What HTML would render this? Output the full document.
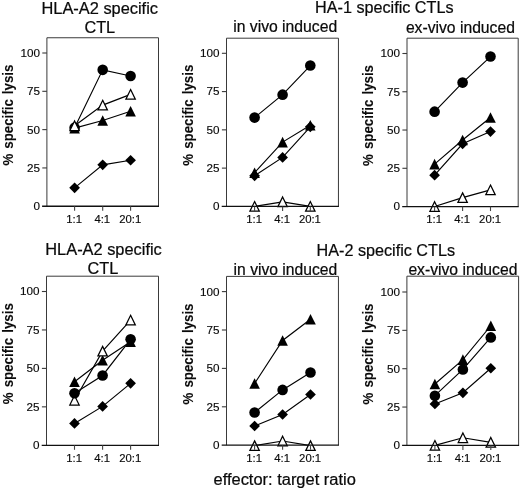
<!DOCTYPE html>
<html><head><meta charset="utf-8"><title>CTL lysis figure</title>
<style>
html,body{margin:0;padding:0;background:#fff;}
svg{display:block;will-change:transform;filter:grayscale(1)}
text{font-family:"Liberation Sans",sans-serif;fill:#0a0a0a;stroke:#0a0a0a;stroke-width:0.22px}
.tt{font-size:16px}
.tk{font-size:11.7px;stroke-width:0.15px}
.tx{font-size:11.3px;stroke-width:0.15px}
.yl{font-size:15.4px;font-weight:bold;stroke-width:0.1px;word-spacing:1.6px}
</style></head><body>
<svg width="520" height="490" viewBox="0 0 520 490">
<rect width="520" height="490" fill="#fff"/>
<path d="M46.9 206.25V37.75H158.5V206.25" fill="none" stroke="#3a3a3a" stroke-width="1.0"/>
<text x="40.00" y="210.15" text-anchor="end" class="tk">0</text>
<path d="M42.3 167.94H46.9" stroke="#3a3a3a" stroke-width="1.1"/>
<text x="40.00" y="171.84" text-anchor="end" class="tk">25</text>
<path d="M42.3 129.62H46.9" stroke="#3a3a3a" stroke-width="1.1"/>
<text x="40.00" y="133.53" text-anchor="end" class="tk">50</text>
<path d="M42.3 91.31H46.9" stroke="#3a3a3a" stroke-width="1.1"/>
<text x="40.00" y="95.21" text-anchor="end" class="tk">75</text>
<path d="M42.3 53.00H46.9" stroke="#3a3a3a" stroke-width="1.1"/>
<text x="40.00" y="56.90" text-anchor="end" class="tk">100</text>
<text x="74.20" y="223.15" text-anchor="middle" class="tx">1:1</text>
<text x="102.30" y="223.15" text-anchor="middle" class="tx">4:1</text>
<text x="130.20" y="223.15" text-anchor="middle" class="tx">20:1</text>
<text transform="translate(12.8 165.6) rotate(-90)" class="yl" textLength="101" lengthAdjust="spacingAndGlyphs">% specific lysis</text>
<polyline points="74.60,187.86 102.70,164.87 130.60,160.28" fill="none" stroke="#000" stroke-width="1.15"/>
<path d="M74.60 182.51L79.95 187.86L74.60 193.21L69.25 187.86Z" fill="#000"/>
<path d="M102.70 159.52L108.05 164.87L102.70 170.22L97.35 164.87Z" fill="#000"/>
<path d="M130.60 154.93L135.95 160.28L130.60 165.62L125.25 160.28Z" fill="#000"/>
<polyline points="74.60,127.63 102.70,69.86 130.60,75.99" fill="none" stroke="#000" stroke-width="1.15"/>
<circle cx="74.60" cy="127.63" r="5.3" fill="#000"/>
<circle cx="102.70" cy="69.86" r="5.3" fill="#000"/>
<circle cx="130.60" cy="75.99" r="5.3" fill="#000"/>
<polyline points="74.60,128.09 102.70,120.43 130.60,111.23" fill="none" stroke="#000" stroke-width="1.15"/>
<path d="M74.60 122.79L79.90 133.39L69.30 133.39Z" fill="#000"/>
<path d="M102.70 115.13L108.00 125.73L97.40 125.73Z" fill="#000"/>
<path d="M130.60 105.94L135.90 116.53L125.30 116.53Z" fill="#000"/>
<polyline points="74.60,125.79 102.70,105.11 130.60,94.38" fill="none" stroke="#000" stroke-width="1.15"/>
<path d="M74.60 120.99L79.30 130.59L69.90 130.59Z" fill="#fff" stroke="#000" stroke-width="1.25" stroke-linejoin="miter"/>
<path d="M102.70 100.31L107.40 109.91L98.00 109.91Z" fill="#fff" stroke="#000" stroke-width="1.25" stroke-linejoin="miter"/>
<path d="M130.60 89.58L135.30 99.18L125.90 99.18Z" fill="#fff" stroke="#000" stroke-width="1.25" stroke-linejoin="miter"/>
<path d="M42.1 206.25H159.0" fill="none" stroke="#111" stroke-width="1.3"/>
<path d="M74.6 206.25V210.75" stroke="#444" stroke-width="1.1"/>
<path d="M102.7 206.25V210.75" stroke="#444" stroke-width="1.1"/>
<path d="M130.6 206.25V210.75" stroke="#444" stroke-width="1.1"/>
<path d="M226.5 206.4V38.2H338.45V206.4" fill="none" stroke="#3a3a3a" stroke-width="1.0"/>
<text x="219.60" y="210.30" text-anchor="end" class="tk">0</text>
<path d="M221.9 168.12H226.5" stroke="#3a3a3a" stroke-width="1.1"/>
<text x="219.60" y="172.03" text-anchor="end" class="tk">25</text>
<path d="M221.9 129.85H226.5" stroke="#3a3a3a" stroke-width="1.1"/>
<text x="219.60" y="133.75" text-anchor="end" class="tk">50</text>
<path d="M221.9 91.58H226.5" stroke="#3a3a3a" stroke-width="1.1"/>
<text x="219.60" y="95.48" text-anchor="end" class="tk">75</text>
<path d="M221.9 53.30H226.5" stroke="#3a3a3a" stroke-width="1.1"/>
<text x="219.60" y="57.20" text-anchor="end" class="tk">100</text>
<text x="254.20" y="223.30" text-anchor="middle" class="tx">1:1</text>
<text x="282.20" y="223.30" text-anchor="middle" class="tx">4:1</text>
<text x="309.90" y="223.30" text-anchor="middle" class="tx">20:1</text>
<text transform="translate(193.0 165.7) rotate(-90)" class="yl" textLength="101" lengthAdjust="spacingAndGlyphs">% specific lysis</text>
<polyline points="254.60,117.60 282.60,94.64 310.30,65.55" fill="none" stroke="#000" stroke-width="1.15"/>
<circle cx="254.60" cy="117.60" r="5.3" fill="#000"/>
<circle cx="282.60" cy="94.64" r="5.3" fill="#000"/>
<circle cx="310.30" cy="65.55" r="5.3" fill="#000"/>
<polyline points="254.60,172.72 282.60,142.10 310.30,125.26" fill="none" stroke="#000" stroke-width="1.15"/>
<path d="M254.60 167.42L259.90 178.02L249.30 178.02Z" fill="#000"/>
<path d="M282.60 136.80L287.90 147.40L277.30 147.40Z" fill="#000"/>
<path d="M310.30 119.96L315.60 130.56L305.00 130.56Z" fill="#000"/>
<polyline points="254.60,175.78 282.60,157.41 310.30,126.79" fill="none" stroke="#000" stroke-width="1.15"/>
<path d="M254.60 170.43L259.95 175.78L254.60 181.13L249.25 175.78Z" fill="#000"/>
<path d="M282.60 152.06L287.95 157.41L282.60 162.76L277.25 157.41Z" fill="#000"/>
<path d="M310.30 121.44L315.65 126.79L310.30 132.14L304.95 126.79Z" fill="#000"/>
<polyline points="254.60,206.40 282.60,201.81 310.30,206.40" fill="none" stroke="#000" stroke-width="1.15"/>
<path d="M254.60 201.60L259.30 211.20L249.90 211.20Z" fill="#fff" stroke="#000" stroke-width="1.25" stroke-linejoin="miter"/>
<path d="M282.60 197.01L287.30 206.61L277.90 206.61Z" fill="#fff" stroke="#000" stroke-width="1.25" stroke-linejoin="miter"/>
<path d="M310.30 201.60L315.00 211.20L305.60 211.20Z" fill="#fff" stroke="#000" stroke-width="1.25" stroke-linejoin="miter"/>
<path d="M221.7 206.4H338.95" fill="none" stroke="#111" stroke-width="1.3"/>
<path d="M254.6 206.4V210.9" stroke="#444" stroke-width="1.1"/>
<path d="M282.6 206.4V210.9" stroke="#444" stroke-width="1.1"/>
<path d="M310.3 206.4V210.9" stroke="#444" stroke-width="1.1"/>
<path d="M407.0 206.55V38.2H518.2V206.55" fill="none" stroke="#3a3a3a" stroke-width="1.0"/>
<text x="400.10" y="210.45" text-anchor="end" class="tk">0</text>
<path d="M402.4 168.29H407.0" stroke="#3a3a3a" stroke-width="1.1"/>
<text x="400.10" y="172.19" text-anchor="end" class="tk">25</text>
<path d="M402.4 130.03H407.0" stroke="#3a3a3a" stroke-width="1.1"/>
<text x="400.10" y="133.93" text-anchor="end" class="tk">50</text>
<path d="M402.4 91.76H407.0" stroke="#3a3a3a" stroke-width="1.1"/>
<text x="400.10" y="95.66" text-anchor="end" class="tk">75</text>
<path d="M402.4 53.50H407.0" stroke="#3a3a3a" stroke-width="1.1"/>
<text x="400.10" y="57.40" text-anchor="end" class="tk">100</text>
<text x="434.20" y="223.45" text-anchor="middle" class="tx">1:1</text>
<text x="462.20" y="223.45" text-anchor="middle" class="tx">4:1</text>
<text x="490.10" y="223.45" text-anchor="middle" class="tx">20:1</text>
<text transform="translate(373.1 166.0) rotate(-90)" class="yl" textLength="101" lengthAdjust="spacingAndGlyphs">% specific lysis</text>
<polyline points="434.60,111.66 462.60,82.58 490.50,56.56" fill="none" stroke="#000" stroke-width="1.15"/>
<circle cx="434.60" cy="111.66" r="5.3" fill="#000"/>
<circle cx="462.60" cy="82.58" r="5.3" fill="#000"/>
<circle cx="490.50" cy="56.56" r="5.3" fill="#000"/>
<polyline points="434.60,164.16 462.60,139.97 490.50,117.47" fill="none" stroke="#000" stroke-width="1.15"/>
<path d="M434.60 158.86L439.90 169.46L429.30 169.46Z" fill="#000"/>
<path d="M462.60 134.67L467.90 145.27L457.30 145.27Z" fill="#000"/>
<path d="M490.50 112.17L495.80 122.77L485.20 122.77Z" fill="#000"/>
<polyline points="434.60,175.17 462.60,143.80 490.50,131.56" fill="none" stroke="#000" stroke-width="1.15"/>
<path d="M434.60 169.82L439.95 175.17L434.60 180.52L429.25 175.17Z" fill="#000"/>
<path d="M462.60 138.45L467.95 143.80L462.60 149.15L457.25 143.80Z" fill="#000"/>
<path d="M490.50 126.21L495.85 131.56L490.50 136.91L485.15 131.56Z" fill="#000"/>
<polyline points="434.60,206.55 462.60,197.67 490.50,189.87" fill="none" stroke="#000" stroke-width="1.15"/>
<path d="M434.60 201.75L439.30 211.35L429.90 211.35Z" fill="#fff" stroke="#000" stroke-width="1.25" stroke-linejoin="miter"/>
<path d="M462.60 192.87L467.30 202.47L457.90 202.47Z" fill="#fff" stroke="#000" stroke-width="1.25" stroke-linejoin="miter"/>
<path d="M490.50 185.07L495.20 194.67L485.80 194.67Z" fill="#fff" stroke="#000" stroke-width="1.25" stroke-linejoin="miter"/>
<path d="M402.2 206.55H518.7" fill="none" stroke="#111" stroke-width="1.3"/>
<path d="M434.6 206.55V211.05" stroke="#444" stroke-width="1.1"/>
<path d="M462.6 206.55V211.05" stroke="#444" stroke-width="1.1"/>
<path d="M490.5 206.55V211.05" stroke="#444" stroke-width="1.1"/>
<path d="M46.5 445.3V276.2H158.5V445.3" fill="none" stroke="#3a3a3a" stroke-width="1.0"/>
<text x="39.60" y="449.20" text-anchor="end" class="tk">0</text>
<path d="M41.9 406.85H46.5" stroke="#3a3a3a" stroke-width="1.1"/>
<text x="39.60" y="410.75" text-anchor="end" class="tk">25</text>
<path d="M41.9 368.40H46.5" stroke="#3a3a3a" stroke-width="1.1"/>
<text x="39.60" y="372.30" text-anchor="end" class="tk">50</text>
<path d="M41.9 329.95H46.5" stroke="#3a3a3a" stroke-width="1.1"/>
<text x="39.60" y="333.85" text-anchor="end" class="tk">75</text>
<path d="M41.9 291.50H46.5" stroke="#3a3a3a" stroke-width="1.1"/>
<text x="39.60" y="295.40" text-anchor="end" class="tk">100</text>
<text x="74.10" y="462.20" text-anchor="middle" class="tx">1:1</text>
<text x="102.20" y="462.20" text-anchor="middle" class="tx">4:1</text>
<text x="130.20" y="462.20" text-anchor="middle" class="tx">20:1</text>
<text transform="translate(12.8 404.2) rotate(-90)" class="yl" textLength="101" lengthAdjust="spacingAndGlyphs">% specific lysis</text>
<polyline points="74.50,423.46 102.60,406.39 130.60,383.32" fill="none" stroke="#000" stroke-width="1.15"/>
<path d="M74.50 418.11L79.85 423.46L74.50 428.81L69.15 423.46Z" fill="#000"/>
<path d="M102.60 401.04L107.95 406.39L102.60 411.74L97.25 406.39Z" fill="#000"/>
<path d="M130.60 377.97L135.95 383.32L130.60 388.67L125.25 383.32Z" fill="#000"/>
<polyline points="74.50,381.78 102.60,360.25 130.60,341.79" fill="none" stroke="#000" stroke-width="1.15"/>
<path d="M74.50 376.48L79.80 387.08L69.20 387.08Z" fill="#000"/>
<path d="M102.60 354.95L107.90 365.55L97.30 365.55Z" fill="#000"/>
<path d="M130.60 336.49L135.90 347.09L125.30 347.09Z" fill="#000"/>
<polyline points="74.50,400.24 102.60,351.17 130.60,320.11" fill="none" stroke="#000" stroke-width="1.15"/>
<path d="M74.50 395.44L79.20 405.04L69.80 405.04Z" fill="#fff" stroke="#000" stroke-width="1.25" stroke-linejoin="miter"/>
<path d="M102.60 346.37L107.30 355.97L97.90 355.97Z" fill="#fff" stroke="#000" stroke-width="1.25" stroke-linejoin="miter"/>
<path d="M130.60 315.31L135.30 324.91L125.90 324.91Z" fill="#fff" stroke="#000" stroke-width="1.25" stroke-linejoin="miter"/>
<polyline points="74.50,393.32 102.60,375.47 130.60,339.33" fill="none" stroke="#000" stroke-width="1.15"/>
<circle cx="74.50" cy="393.32" r="5.3" fill="#000"/>
<circle cx="102.60" cy="375.47" r="5.3" fill="#000"/>
<circle cx="130.60" cy="339.33" r="5.3" fill="#000"/>
<path d="M41.7 445.3H159.0" fill="none" stroke="#111" stroke-width="1.3"/>
<path d="M74.5 445.3V449.8" stroke="#444" stroke-width="1.1"/>
<path d="M102.6 445.3V449.8" stroke="#444" stroke-width="1.1"/>
<path d="M130.6 445.3V449.8" stroke="#444" stroke-width="1.1"/>
<path d="M226.5 445.2V276.4H338.45V445.2" fill="none" stroke="#3a3a3a" stroke-width="1.0"/>
<text x="219.60" y="449.10" text-anchor="end" class="tk">0</text>
<path d="M221.9 406.80H226.5" stroke="#3a3a3a" stroke-width="1.1"/>
<text x="219.60" y="410.70" text-anchor="end" class="tk">25</text>
<path d="M221.9 368.40H226.5" stroke="#3a3a3a" stroke-width="1.1"/>
<text x="219.60" y="372.30" text-anchor="end" class="tk">50</text>
<path d="M221.9 330.00H226.5" stroke="#3a3a3a" stroke-width="1.1"/>
<text x="219.60" y="333.90" text-anchor="end" class="tk">75</text>
<path d="M221.9 291.60H226.5" stroke="#3a3a3a" stroke-width="1.1"/>
<text x="219.60" y="295.50" text-anchor="end" class="tk">100</text>
<text x="254.20" y="462.10" text-anchor="middle" class="tx">1:1</text>
<text x="282.20" y="462.10" text-anchor="middle" class="tx">4:1</text>
<text x="310.10" y="462.10" text-anchor="middle" class="tx">20:1</text>
<text transform="translate(193.0 404.5) rotate(-90)" class="yl" textLength="101" lengthAdjust="spacingAndGlyphs">% specific lysis</text>
<polyline points="254.60,383.45 282.60,340.44 310.50,319.25" fill="none" stroke="#000" stroke-width="1.15"/>
<path d="M254.60 378.15L259.90 388.75L249.30 388.75Z" fill="#000"/>
<path d="M282.60 335.14L287.90 345.74L277.30 345.74Z" fill="#000"/>
<path d="M310.50 313.95L315.80 324.55L305.20 324.55Z" fill="#000"/>
<polyline points="254.60,412.48 282.60,389.90 310.50,372.55" fill="none" stroke="#000" stroke-width="1.15"/>
<circle cx="254.60" cy="412.48" r="5.3" fill="#000"/>
<circle cx="282.60" cy="389.90" r="5.3" fill="#000"/>
<circle cx="310.50" cy="372.55" r="5.3" fill="#000"/>
<polyline points="254.60,426.00 282.60,414.48 310.50,394.51" fill="none" stroke="#000" stroke-width="1.15"/>
<path d="M254.60 420.65L259.95 426.00L254.60 431.35L249.25 426.00Z" fill="#000"/>
<path d="M282.60 409.13L287.95 414.48L282.60 419.83L277.25 414.48Z" fill="#000"/>
<path d="M310.50 389.16L315.85 394.51L310.50 399.86L305.15 394.51Z" fill="#000"/>
<polyline points="254.60,445.66 282.60,441.05 310.50,445.66" fill="none" stroke="#000" stroke-width="1.15"/>
<path d="M254.60 440.86L259.30 450.46L249.90 450.46Z" fill="#fff" stroke="#000" stroke-width="1.25" stroke-linejoin="miter"/>
<path d="M282.60 436.25L287.30 445.85L277.90 445.85Z" fill="#fff" stroke="#000" stroke-width="1.25" stroke-linejoin="miter"/>
<path d="M310.50 440.86L315.20 450.46L305.80 450.46Z" fill="#fff" stroke="#000" stroke-width="1.25" stroke-linejoin="miter"/>
<path d="M221.7 445.2H338.95" fill="none" stroke="#111" stroke-width="1.3"/>
<path d="M254.6 445.2V449.7" stroke="#444" stroke-width="1.1"/>
<path d="M282.6 445.2V449.7" stroke="#444" stroke-width="1.1"/>
<path d="M310.5 445.2V449.7" stroke="#444" stroke-width="1.1"/>
<path d="M406.9 445.4V276.2H518.6V445.4" fill="none" stroke="#3a3a3a" stroke-width="1.0"/>
<text x="400.00" y="449.30" text-anchor="end" class="tk">0</text>
<path d="M402.29999999999995 407.05H406.9" stroke="#3a3a3a" stroke-width="1.1"/>
<text x="400.00" y="410.95" text-anchor="end" class="tk">25</text>
<path d="M402.29999999999995 368.70H406.9" stroke="#3a3a3a" stroke-width="1.1"/>
<text x="400.00" y="372.60" text-anchor="end" class="tk">50</text>
<path d="M402.29999999999995 330.35H406.9" stroke="#3a3a3a" stroke-width="1.1"/>
<text x="400.00" y="334.25" text-anchor="end" class="tk">75</text>
<path d="M402.29999999999995 292.00H406.9" stroke="#3a3a3a" stroke-width="1.1"/>
<text x="400.00" y="295.90" text-anchor="end" class="tk">100</text>
<text x="434.50" y="462.30" text-anchor="middle" class="tx">1:1</text>
<text x="462.50" y="462.30" text-anchor="middle" class="tx">4:1</text>
<text x="490.40" y="462.30" text-anchor="middle" class="tx">20:1</text>
<text transform="translate(373.1 404.5) rotate(-90)" class="yl" textLength="101" lengthAdjust="spacingAndGlyphs">% specific lysis</text>
<polyline points="434.90,384.04 462.90,359.65 490.80,325.75" fill="none" stroke="#000" stroke-width="1.15"/>
<path d="M434.90 378.74L440.20 389.34L429.60 389.34Z" fill="#000"/>
<path d="M462.90 354.35L468.20 364.95L457.60 364.95Z" fill="#000"/>
<path d="M490.80 320.45L496.10 331.05L485.50 331.05Z" fill="#000"/>
<polyline points="434.90,403.98 462.90,392.78 490.80,368.24" fill="none" stroke="#000" stroke-width="1.15"/>
<path d="M434.90 398.63L440.25 403.98L434.90 409.33L429.55 403.98Z" fill="#000"/>
<path d="M462.90 387.43L468.25 392.78L462.90 398.13L457.55 392.78Z" fill="#000"/>
<path d="M490.80 362.89L496.15 368.24L490.80 373.59L485.45 368.24Z" fill="#000"/>
<polyline points="434.90,395.70 462.90,369.47 490.80,337.41" fill="none" stroke="#000" stroke-width="1.15"/>
<circle cx="434.90" cy="395.70" r="5.3" fill="#000"/>
<circle cx="462.90" cy="369.47" r="5.3" fill="#000"/>
<circle cx="490.80" cy="337.41" r="5.3" fill="#000"/>
<polyline points="434.90,445.40 462.90,437.73 490.80,442.33" fill="none" stroke="#000" stroke-width="1.15"/>
<path d="M434.90 440.60L439.60 450.20L430.20 450.20Z" fill="#fff" stroke="#000" stroke-width="1.25" stroke-linejoin="miter"/>
<path d="M462.90 432.93L467.60 442.53L458.20 442.53Z" fill="#fff" stroke="#000" stroke-width="1.25" stroke-linejoin="miter"/>
<path d="M490.80 437.53L495.50 447.13L486.10 447.13Z" fill="#fff" stroke="#000" stroke-width="1.25" stroke-linejoin="miter"/>
<path d="M402.09999999999997 445.4H519.1" fill="none" stroke="#111" stroke-width="1.3"/>
<path d="M434.9 445.4V449.9" stroke="#444" stroke-width="1.1"/>
<path d="M462.9 445.4V449.9" stroke="#444" stroke-width="1.1"/>
<path d="M490.8 445.4V449.9" stroke="#444" stroke-width="1.1"/>
<text x="41.5" y="14" class="tt" textLength="116.5" lengthAdjust="spacingAndGlyphs">HLA-A2 specific</text>
<text x="84.4" y="32.5" class="tt" textLength="30.8" lengthAdjust="spacingAndGlyphs">CTL</text>
<text x="315.1" y="13.4" class="tt" textLength="138.4" lengthAdjust="spacingAndGlyphs">HA-1 specific CTLs</text>
<text x="233.2" y="32.2" class="tt" textLength="104.0" lengthAdjust="spacingAndGlyphs">in vivo induced</text>
<text x="405.9" y="33.4" class="tt" textLength="109" lengthAdjust="spacingAndGlyphs">ex-vivo induced</text>
<text x="45.3" y="254.5" class="tt" textLength="116.5" lengthAdjust="spacingAndGlyphs">HLA-A2 specific</text>
<text x="87.6" y="274.3" class="tt" textLength="30.8" lengthAdjust="spacingAndGlyphs">CTL</text>
<text x="316.6" y="255.9" class="tt" textLength="138.4" lengthAdjust="spacingAndGlyphs">HA-2 specific CTLs</text>
<text x="233.6" y="274.5" class="tt" textLength="103.6" lengthAdjust="spacingAndGlyphs">in vivo induced</text>
<text x="408.4" y="275.0" class="tt" textLength="109" lengthAdjust="spacingAndGlyphs">ex-vivo induced</text>
<text x="213.5" y="484.7" class="tt" textLength="142.3" lengthAdjust="spacingAndGlyphs">effector: target ratio</text>
</svg>
</body></html>
